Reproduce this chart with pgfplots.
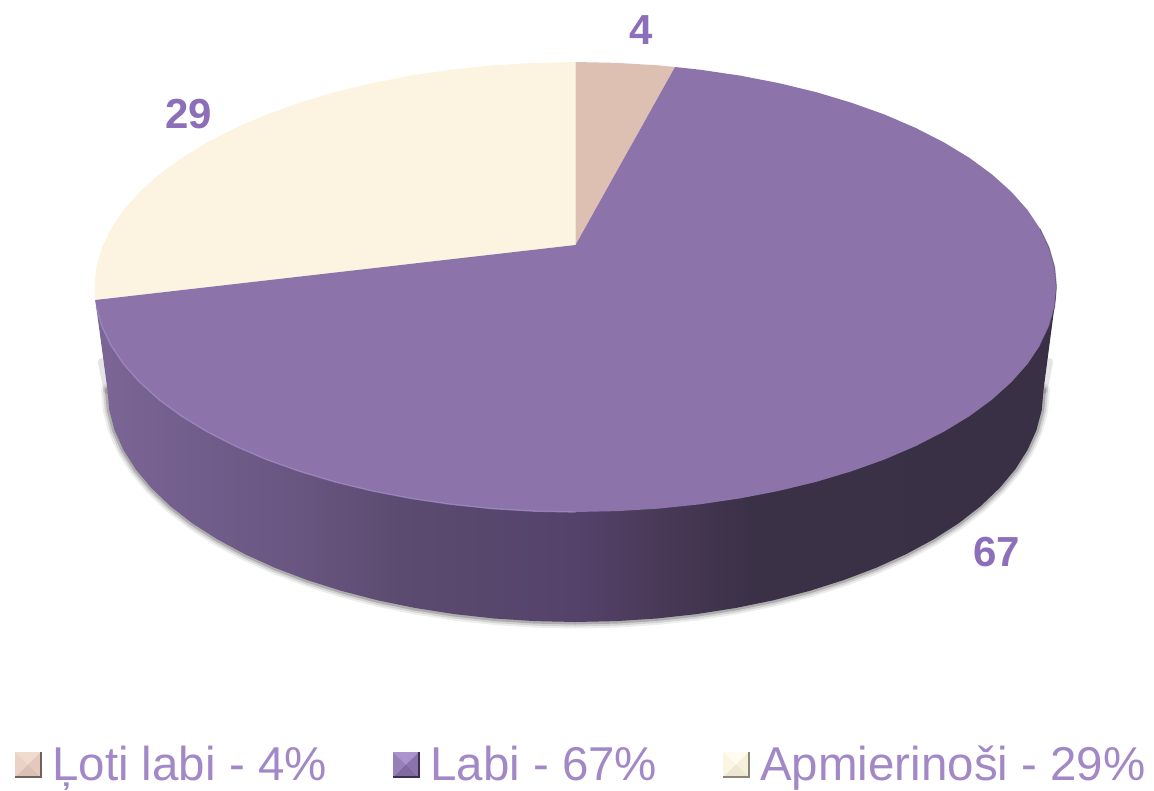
\documentclass[border=0pt]{standalone}
\usepackage{pgfplots}
\pgfplotsset{compat=1.18}
\usepackage{pgfplotstable}
\usepackage{fontspec}
\setmainfont{Liberation Sans}
\definecolor{topP}{HTML}{8C74AB}
\definecolor{beige}{HTML}{FCF4E0}
\definecolor{pinkS}{HTML}{DEC0B3}
\definecolor{lab}{HTML}{8D6EB9}
\definecolor{leg}{HTML}{A288C6}
\definecolor{rimL}{HTML}{A08CC4}
\definecolor{s1}{HTML}{7B6696}
\definecolor{s2}{HTML}{685580}
\definecolor{s3}{HTML}{5C4B70}
\definecolor{s4}{HTML}{54426A}
\definecolor{s5}{HTML}{4C3B5B}
\definecolor{s6}{HTML}{3B3147}
\definecolor{s7}{HTML}{393045}
\definecolor{pa}{HTML}{F1DACE}\definecolor{pb}{HTML}{EAD2C6}\definecolor{pc}{HTML}{E3C8BB}\definecolor{pd}{HTML}{DCC0B3}\definecolor{pe}{HTML}{6F625C}
\definecolor{ua}{HTML}{A994CE}\definecolor{ub}{HTML}{9780BA}\definecolor{uc}{HTML}{8A72AC}\definecolor{ud}{HTML}{806A9E}\definecolor{ue}{HTML}{3A3050}
\definecolor{ba}{HTML}{FFFBEF}\definecolor{bb}{HTML}{FBF5E4}\definecolor{bc}{HTML}{F6EFDC}\definecolor{bd}{HTML}{EEE7D2}\definecolor{be}{HTML}{8B8675}
\pgfdeclarehorizontalshading{sideshade}{100bp}{color(0bp)=(s1); color(25bp)=(s1); color(35.7bp)=(s2); color(40.9bp)=(s3); color(50bp)=(s4); color(53.4bp)=(s5); color(59.1bp)=(s6); color(75bp)=(s7); color(100bp)=(s7)}
\pgfplotstableread{
x y
107.5 390
109.3 410.2
114.6 430.3
123.5 450
135.7 469.3
151.4 488
170.2 506
192.1 523.1
217 539.1
244.6 554
274.7 567.7
307.1 580
341.5 590.9
377.7 600.3
415.4 608
454.4 614.1
494.3 618.5
534.7 621.1
575.5 622
616.3 621.1
656.7 618.5
696.6 614.1
735.6 608
773.3 600.3
809.5 590.9
843.9 580
876.3 567.7
906.4 554
934 539.1
958.9 523.1
980.8 506
999.6 488
1015.3 469.3
1027.5 450
1036.4 430.3
1041.7 410.2
1043.5 390
}\bottomarc
\newcommand{\legsq}[4]{%
  % x0 xc x1 colour prefix
  \addplot[fill=#4a,draw=none] coordinates {(#1,752)(#3,752)(#2,764.5)};
  \addplot[fill=#4b,draw=none] coordinates {(#1,752)(#1,777)(#2,764.5)};
  \addplot[fill=#4c,draw=none] coordinates {(#3,752)(#3,777)(#2,764.5)};
  \addplot[fill=#4d,draw=none] coordinates {(#1,777)(#3,777)(#2,764.5)};
  \addplot[draw=#4e,line width=1.2pt] coordinates {(#3,752)(#3,777)(#1,777)};
}
\begin{document}
\begin{tikzpicture}
\useasboundingbox (0,0) rectangle (1154pt,790pt);
\begin{axis}[
  width=1154pt,height=790pt,scale only axis,
  at={(0,0)},anchor=south west,
  xmin=0,xmax=1154,ymin=0,ymax=790,y dir=reverse,
  hide axis,clip=false,
]
% soft shadow
\addplot[draw=black,opacity=0.07,line width=13pt,line join=round,line cap=round] table {\bottomarc};
\addplot[draw=black,opacity=0.11,line width=9pt,line join=round,line cap=round] table {\bottomarc};
\addplot[draw=black,opacity=0.18,line width=5pt,line join=round,line cap=round] table {\bottomarc};
\addplot[draw=black,opacity=0.10,line width=8pt,line cap=round] coordinates {(102,362)(107.5,390)};
\addplot[draw=black,opacity=0.10,line width=8pt,line cap=round] coordinates {(1049,362)(1043.5,390)};
% side wall
\addplot[draw=none,shade,shading=sideshade] coordinates {
(95.3,300)(107.5,390)(109.3,410.2)(114.6,430.3)(123.5,450)(135.7,469.3)(151.4,488)(170.2,506)(192.1,523.1)(217,539.1)(244.6,554)(274.7,567.7)(307.1,580)(341.5,590.9)(377.7,600.3)(415.4,608)(454.4,614.1)(494.3,618.5)(534.7,621.1)(575.5,622)(616.3,621.1)(656.7,618.5)(696.6,614.1)(735.6,608)(773.3,600.3)(809.5,590.9)(843.9,580)(876.3,567.7)(906.4,554)(934,539.1)(958.9,523.1)(980.8,506)(999.6,488)(1015.3,469.3)(1027.5,450)(1036.4,430.3)(1041.7,410.2)(1043.5,390)(1056,295)};
% Apmierinosi 29
\addplot[fill=beige,draw=none] coordinates {
(575.5,245)(95.3,300)(94.5,287)(96.3,267.4)(101.8,247.9)(110.9,228.8)(123.5,210)(139.6,191.9)(158.9,174.5)(181.5,157.9)(207,142.4)(235.4,127.9)(266.3,114.6)(299.6,102.7)(335,92.1)(372.2,83.1)(411,75.6)(451,69.7)(492,65.4)(533.6,62.9)(575.5,62)};
% Loti labi 4
\addplot[fill=pinkS,draw=none] coordinates {
(575.5,245)(575.5,62)(617.4,62.9)(659,65.4)(675,67)};
% Labi 67
\addplot[fill=topP,draw=none] coordinates {
(575.5,245)(675,67)(700,69.7)(740,75.6)(778.8,83.1)(816,92.1)(851.4,102.7)(884.7,114.6)(915.6,127.9)(944,142.4)(969.5,157.9)(992.1,174.5)(1011.4,191.9)(1027.5,210)(1040.1,228.8)(1049.2,247.9)(1054.7,267.4)(1056.5,287)(1054.7,306.6)(1049.2,326.1)(1040.1,345.2)(1027.5,364)(1011.4,382.1)(992.1,399.5)(969.5,416.1)(944,431.6)(915.6,446.1)(884.7,459.4)(851.4,471.3)(816,481.9)(778.8,490.9)(740,498.4)(700,504.3)(659,508.6)(617.4,511.1)(575.5,512)(533.6,511.1)(492,508.6)(451,504.3)(411,498.4)(372.2,490.9)(335,481.9)(299.6,471.3)(266.3,459.4)(235.4,446.1)(207,431.6)(181.5,416.1)(158.9,399.5)(139.6,382.1)(123.5,364)(110.9,345.2)(101.8,326.1)(96.3,306.6)(95.3,300)};
% rim highlights
\addplot[draw=rimL,line width=1.3pt,opacity=0.8] coordinates {
(96.3,306.6)(101.8,326.1)(110.9,345.2)(123.5,364)(139.6,382.1)(158.9,399.5)(181.5,416.1)(207,431.6)(235.4,446.1)(266.3,459.4)(299.6,471.3)(335,481.9)(372.2,490.9)(411,498.4)(451,504.3)(492,508.6)(533.6,511.1)(575.5,512)};
\addplot[draw=s6,line width=1pt,opacity=0.45] coordinates {
(1040.1,228.8)(1049.2,247.9)(1054.7,267.4)(1056.5,287)(1054.7,306.6)(1049.2,326.1)(1040.1,345.2)};
% data labels
\node[anchor=base west,inner sep=0pt,text=lab,font=\fontsize{42}{44}\selectfont\bfseries] at (axis cs:629,44) {4};
\node[anchor=base west,inner sep=0pt,text=lab,font=\fontsize{42}{44}\selectfont\bfseries] at (axis cs:165,128) {29};
\node[anchor=base west,inner sep=0pt,text=lab,font=\fontsize{42}{44}\selectfont\bfseries] at (axis cs:973,566) {67};
% legend
\legsq{15}{28}{41}{p}
\legsq{393}{406}{419}{u}
\legsq{723}{736}{749}{b}
\node[anchor=base west,inner sep=0pt,text=leg,font=\fontsize{47.5}{50}\selectfont] at (axis cs:52,780) {Ļoti labi - 4\%};
\node[anchor=base west,inner sep=0pt,text=leg,font=\fontsize{47.5}{50}\selectfont] at (axis cs:430,780) {Labi - 67\%};
\node[anchor=base west,inner sep=0pt,text=leg,font=\fontsize{47.5}{50}\selectfont] at (axis cs:760,780) {Apmierinoši - 29\%};
\end{axis}
\end{tikzpicture}
\end{document}
